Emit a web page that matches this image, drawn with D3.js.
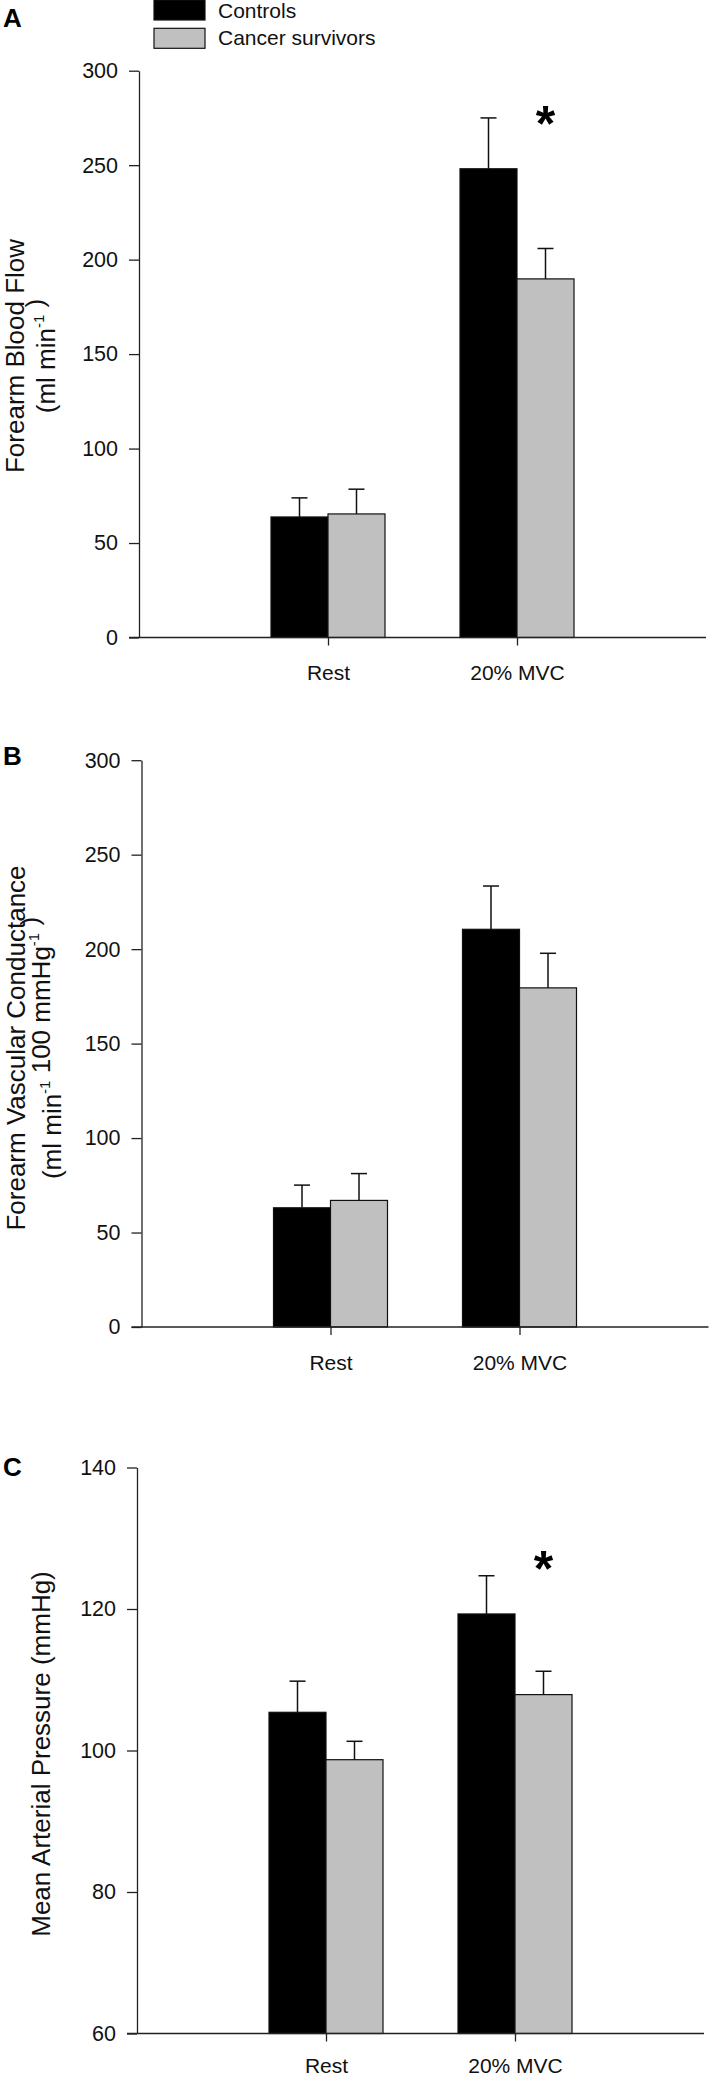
<!DOCTYPE html>
<html>
<head>
<meta charset="utf-8">
<script src="https://cdn.jsdelivr.net/npm/d3@7"></script>
<style>
  html, body { margin: 0; padding: 0; background: #fff; }
  svg { display: block; font-family: "Liberation Sans", Arial, sans-serif; }
</style>
</head>
<body>
<svg id="chart" width="709" height="2076"></svg>
<script>
// ---- data ----
const categories = ["Rest", "20% MVC"];
const seriesNames = ["Controls", "Cancer survivors"];
const seriesColors = ["#000000", "#c0c0c0"];

// Panel A: Forearm blood flow (ml min-1)
const flowControls = [63.8, 248.1];
const flowControlsSE = [10.1, 26.9];
const flowSurvivors = [65.4, 189.8];
const flowSurvivorsSE = [13.1, 16.1];
const flowTicks = [0, 50, 100, 150, 200, 250, 300];

// Panel B: Forearm vascular conductance (ml min-1 100 mmHg-1)
const condControls = [63.1, 210.5];
const condControlsSE = [12.0, 22.9];
const condSurvivors = [67.0, 179.5];
const condSurvivorsSE = [14.2, 18.3];
const condTicks = [0, 50, 100, 150, 200, 250, 300];

// Panel C: Mean arterial pressure (mmHg)
const mapControls = [105.4, 119.3];
const mapControlsSE = [4.4, 5.4];
const mapSurvivors = [98.7, 107.9];
const mapSurvivorsSE = [2.6, 3.3];
const mapTicks = [60, 80, 100, 120, 140];

// significance markers (category, series index, y in data units)
const sigA = [{cat: "20% MVC", s: 1, y: 276}];
const sigC = [{cat: "20% MVC", s: 1, y: 126.8}];

// ---- layout ----
const svg = d3.select("#chart");
const plotW = 567;
const barW = 57;

const panels = [
  { letter: "A", letterY: 27, x0: 139, yTop: 70.7, yBot: 637.5, domain: [0, 300], ticks: flowTicks,
    values: [flowControls, flowSurvivors], se: [flowControlsSE, flowSurvivorsSE], sig: sigA, labelY: 42.5,
    title: [{x: 24, parts: [["Forearm Blood Flow"]]},
            {x: 55, parts: [["(ml min"], ["-1", true], [" )"]]}], titleY: 356 },
  { letter: "B", letterY: 765, x0: 141.5, yTop: 760.2, yBot: 1327, domain: [0, 300], ticks: condTicks,
    values: [condControls, condSurvivors], se: [condControlsSE, condSurvivorsSE], sig: [], labelY: 42.5,
    title: [{x: 24.5, parts: [["Forearm Vascular Conductance"]]},
            {x: 60.5, parts: [["(ml min"], ["-1", true], [" 100 mmHg"], ["-1", true], [" )"]]}], titleY: 1048 },
  { letter: "C", letterY: 1476, x0: 137, yTop: 1467.5, yBot: 2033.5, domain: [60, 140], ticks: mapTicks,
    values: [mapControls, mapSurvivors], se: [mapControlsSE, mapSurvivorsSE], sig: sigC, labelY: 39,
    title: [{x: 50, parts: [["Mean Arterial Pressure (mmHg)"]]}], titleY: 1754 }
];

panels.forEach(p => {
  const g = svg.append("g");
  const x = d3.scalePoint().domain(categories)
    .range([p.x0 + plotW / 3, p.x0 + 2 * plotW / 3]);
  const y = d3.scaleLinear().domain(p.domain).range([p.yBot, p.yTop]);

  // panel letter
  g.append("text").attr("x", 3).attr("y", p.letterY)
    .attr("font-size", 26).attr("font-weight", "bold").attr("fill", "#000").text(p.letter);

  // bars
  p.values.forEach((vals, si) => {
    g.selectAll(null).data(categories).enter().append("rect")
      .attr("x", d => si === 0 ? x(d) - barW : x(d))
      .attr("y", (d, i) => y(vals[i]))
      .attr("width", barW)
      .attr("height", (d, i) => p.yBot - y(vals[i]))
      .attr("fill", seriesColors[si])
      .attr("stroke", "#111").attr("stroke-width", 1.2);
  });

  // error bars (upper only)
  p.values.forEach((vals, si) => {
    const cx = d => (si === 0 ? x(d) - barW / 2 : x(d) + barW / 2);
    const eg = g.selectAll(null).data(categories).enter().append("g");
    eg.append("line")
      .attr("x1", cx).attr("x2", cx)
      .attr("y1", (d, i) => y(vals[i]))
      .attr("y2", (d, i) => y(vals[i] + p.se[si][i]))
      .attr("stroke", "#111").attr("stroke-width", 1.5);
    eg.append("line")
      .attr("x1", d => cx(d) - 8).attr("x2", d => cx(d) + 8)
      .attr("y1", (d, i) => y(vals[i] + p.se[si][i]))
      .attr("y2", (d, i) => y(vals[i] + p.se[si][i]))
      .attr("stroke", "#111").attr("stroke-width", 1.5);
  });

  // significance markers
  g.selectAll(null).data(p.sig).enter().append("text")
    .attr("x", d => d.s === 0 ? x(d.cat) - barW / 2 : x(d.cat) + barW / 2)
    .attr("y", d => y(d.y))
    .attr("dy", "0.5em")
    .attr("text-anchor", "middle")
    .attr("font-size", 50).attr("font-weight", "bold").text("*");

  // y axis
  const yAxis = d3.axisLeft(y).tickValues(p.ticks).tickSize(10).tickSizeOuter(0).tickPadding(11);
  const ya = g.append("g").attr("transform", `translate(${p.x0},0)`).call(yAxis);
  ya.selectAll("path, line").attr("stroke", "#222").attr("stroke-width", 1.3);
  ya.selectAll("text").attr("font-size", 21.5).attr("fill", "#111")
    .attr("font-family", "'Liberation Sans', Arial, sans-serif");

  // x axis
  const xAxis = d3.axisBottom(x).tickSize(8).tickSizeOuter(0).tickPadding(0);
  const xa = g.append("g").attr("transform", `translate(0,${p.yBot})`).call(xAxis);
  xa.select(".domain").remove();
  xa.append("line").attr("x1", p.x0 - 10).attr("x2", p.x0 + plotW)
    .attr("y1", 0).attr("y2", 0);
  xa.selectAll("line").attr("stroke", "#222").attr("stroke-width", 1.3);
  xa.selectAll(".tick text").attr("font-size", 21).attr("fill", "#111")
    .attr("font-family", "'Liberation Sans', Arial, sans-serif")
    .attr("y", p.labelY).attr("dy", 0);

  // y titles
  p.title.forEach(line => {
    const t = g.append("text")
      .attr("transform", `translate(${line.x},${p.titleY}) rotate(-90)`)
      .attr("text-anchor", "middle").attr("font-size", 26).attr("fill", "#111");
    line.parts.forEach(part => {
      if (part[1]) {
        t.append("tspan").attr("font-size", 15).attr("dy", -11).text(part[0]);
        t.append("tspan").attr("dy", 11).text("");
      } else {
        t.append("tspan").text(part[0]);
      }
    });
  });
});

// legend
const legend = svg.append("g");
seriesNames.forEach((name, i) => {
  legend.append("rect").attr("x", 154).attr("y", i * 28.3)
    .attr("width", 51).attr("height", 20)
    .attr("fill", seriesColors[i]).attr("stroke", "#111").attr("stroke-width", 1.2);
  legend.append("text").attr("x", 218).attr("y", 18 + i * 27)
    .attr("font-size", 21).attr("fill", "#111").text(name);
});
</script>
</body>
</html>
